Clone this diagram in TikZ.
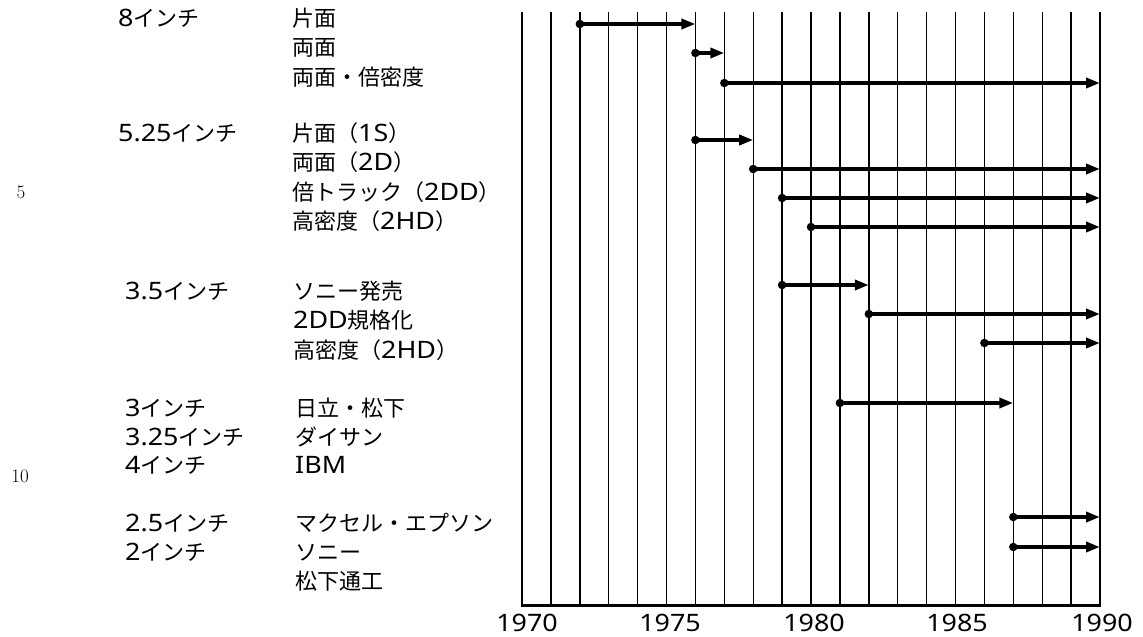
\documentclass[tikz,border=0pt]{standalone}
\usepackage{fontspec}
\newfontfamily\jp{Noto Sans CJK JP}
\newfontfamily\latf[FakeStretch=1.12]{Noto Sans}
\newcommand\LT[1]{{\latf\fontsize{24}{24}\selectfont #1}}
\usetikzlibrary{arrows.meta}
\begin{document}
\begin{tikzpicture}[x=1pt,y=-1pt,
  gridline/.style={line width=1.4pt},
  bar/.style={line width=3.8pt,-{Triangle[length=14pt,width=10pt]}},
  dot/.style={circle,fill,inner sep=0pt,minimum size=8.5pt},
  lab/.style={anchor=base west,inner sep=0pt,font=\jp\fontsize{22}{22}\selectfont},
  yr/.style={anchor=base,inner sep=0pt,font=\latf\fontsize{24}{24}\selectfont},
  lnum/.style={anchor=center,inner sep=0pt,font=\rmfamily\fontsize{19}{19}\selectfont}]
\fill[white] (0,0) rectangle (1143,637);
\useasboundingbox (0,0) rectangle (1143,637);

% grid
\foreach \k in {1,...,20}
  \draw[gridline] ({522+28.9*\k},12) -- ({522+28.9*\k},605);
\draw[line width=2.4pt] (522,12) -- (522,605);
\draw[line width=3pt] (520.8,605) -- (1100.7,605);

% year labels
\node[yr] (y1970) at (527,631) {1970};
\node[yr] (y1975) at (670,631) {1975};
\node[yr] (y1980) at (814,631) {1980};
\node[yr] (y1985) at (957,631) {1985};
\node[yr] (y1990) at (1102,631) {1990};

% arrows
\foreach \y/\a/\b [count=\i] in {24/1972/1976, 53/1976/1977, 83/1977/1990,
    140/1976/1978, 169/1978/1990, 198/1979/1990, 227/1980/1990,
    285/1979/1982, 314/1982/1990, 343/1986/1990,
    403/1981/1987, 517/1987/1990, 547/1987/1990} {
  \coordinate (s\i) at ({522+28.9*(\a-1970)},\y);
  \coordinate (e\i) at ({522+28.9*(\b-1970)},\y);
  \draw[bar] (s\i) -- (e\i);
  \node[dot] (d\i) at (s\i) {};
}

% left column
\node[lab] (c8)   at (118,26)  {\LT{8}インチ};
\node[lab] (c525) at (118,141) {\LT{5.25}インチ};
\node[lab] (c35)  at (125,299) {\LT{3.5}インチ};
\node[lab] (c3)   at (125,416) {\LT{3}インチ};
\node[lab] (c325) at (125,445) {\LT{3.25}インチ};
\node[lab] (c4)   at (125,473) {\LT{4}インチ};
\node[lab] (c25)  at (125,531) {\LT{2.5}インチ};
\node[lab] (c2)   at (125,560) {\LT{2}インチ};

% right column
\node[lab] (t1)  at (292,26)  {片面};
\node[lab] (t2)  at (292,55)  {両面};
\node[lab] (t3)  at (292,85)  {両面・倍密度};
\node[lab] (t4)  at (292,141) {片面（\LT{1S}）};
\node[lab] (t5)  at (292,170) {両面（\LT{2D}）};
\node[lab] (t6)  at (292,200) {倍トラック（\LT{2DD}）};
\node[lab] (t7)  at (292,229) {高密度（\LT{2HD}）};
\node[lab] (t8)  at (293,299) {ソニー発売};
\node[lab] (t9)  at (293,328) {\LT{2DD}規格化};
\node[lab] (t10) at (293,358) {高密度（\LT{2HD}）};
\node[lab] (t11) at (295,416) {日立・松下};
\node[lab] (t12) at (295,445) {ダイサン};
\node[lab] (t13) at (295,473) {\LT{IBM}};
\node[lab] (t14) at (295,531) {マクセル・エプソン};
\node[lab] (t15) at (295,560) {ソニー};
\node[lab] (t16) at (295,589) {松下通工};

% line numbers
\node[lnum] (n5)  at (21,192) {5};
\node[lnum] (n10) at (20,476) {10};
\end{tikzpicture}
\end{document}
